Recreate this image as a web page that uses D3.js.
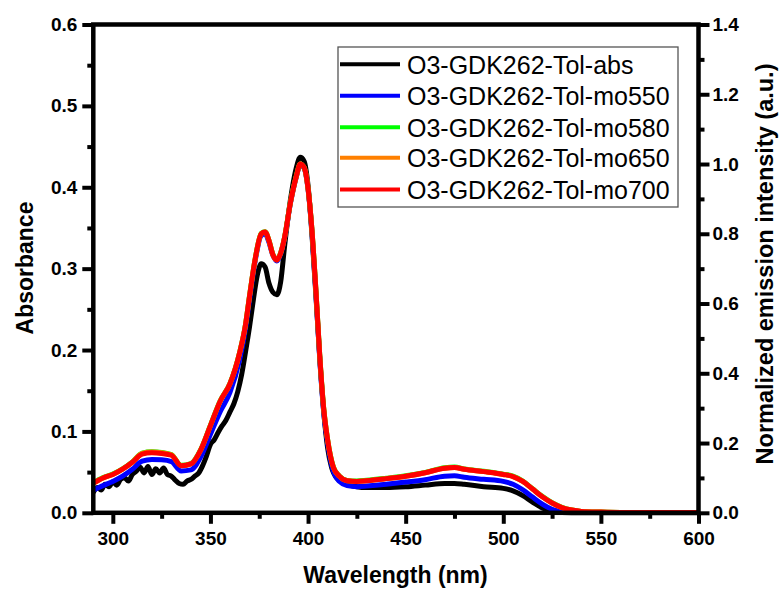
<!DOCTYPE html>
<html>
<head>
<meta charset="utf-8">
<script src="https://cdn.jsdelivr.net/npm/d3@7"></script>
<style>
  html, body { margin: 0; padding: 0; background: #fff; }
  svg { display: block; }
  text { font-family: Arial, "Liberation Sans", sans-serif; }
</style>
</head>
<body>
<svg id="chart" width="781" height="592"></svg>
<script>
// ---------- DATA ----------
const seriesNames = ["O3-GDK262-Tol-abs", "O3-GDK262-Tol-mo550", "O3-GDK262-Tol-mo580", "O3-GDK262-Tol-mo650", "O3-GDK262-Tol-mo700"];
const seriesColors = ["#000000", "#0000ff", "#00ff00", "#ff8000", "#ff0000"];

const xTicks = [300, 350, 400, 450, 500, 550, 600];
const yLeftTicks = [0.0, 0.1, 0.2, 0.3, 0.4, 0.5, 0.6];
const yRightTicks = [0.0, 0.2, 0.4, 0.6, 0.8, 1.0, 1.2, 1.4];

// Absorbance (left axis)
const absWl = [290,292,294,296,298,300,302,304,306,308,310,312,314,316,318,320,322,324,326,328,330,332,334,336,338,340,342,344,346,348,350,352,354,356,358,360,362,364,366,368,370,372,374,376,378,380,382,384,386,388,390,392,394,396,398,400,402,404,406,408,410,412,415,420,425,430,440,450,460,470,475,480,490,500,505,510,515,520,525,530,540,560,580,600];
const absVal = [0.025,0.031,0.028,0.035,0.032,0.038,0.034,0.041,0.043,0.039,0.047,0.051,0.056,0.049,0.057,0.047,0.054,0.049,0.055,0.047,0.045,0.040,0.036,0.035,0.039,0.041,0.045,0.049,0.058,0.070,0.084,0.090,0.099,0.107,0.114,0.124,0.134,0.149,0.170,0.198,0.228,0.262,0.292,0.306,0.302,0.282,0.271,0.268,0.284,0.328,0.368,0.400,0.424,0.437,0.432,0.402,0.342,0.268,0.190,0.125,0.080,0.056,0.042,0.035,0.032,0.031,0.031,0.032,0.034,0.036,0.036,0.035,0.032,0.030,0.027,0.021,0.013,0.006,0.002,0.0005,0.0,0.0,0.0,0.0];

// Emission (right axis, normalized)
const emWl = [290,295,300,305,310,315,320,325,330,335,340,345,350,355,360,365,368,370,373,376,378,380,382,384,386,388,391,394,396,398,400,402,404,406,408,410,413,416,420,425,430,440,450,460,470,475,480,490,500,505,510,515,520,525,530,535,540,550,560,570,580,590,600];
const em550 = [0.065,0.078,0.090,0.105,0.125,0.148,0.153,0.152,0.147,0.120,0.123,0.160,0.225,0.290,0.345,0.440,0.530,0.610,0.725,0.795,0.800,0.775,0.738,0.722,0.742,0.788,0.888,0.963,0.998,0.988,0.928,0.805,0.632,0.440,0.290,0.200,0.118,0.090,0.078,0.075,0.077,0.082,0.088,0.095,0.105,0.106,0.102,0.096,0.090,0.082,0.066,0.045,0.025,0.010,0.003,0.001,0.001,0.001,0.001,0.001,0.001,0.001,0.001];
const em580 = [0.086,0.101,0.111,0.126,0.146,0.171,0.175,0.173,0.167,0.136,0.141,0.181,0.251,0.321,0.371,0.461,0.541,0.621,0.731,0.801,0.806,0.781,0.741,0.726,0.746,0.791,0.891,0.966,1.000,0.990,0.931,0.811,0.641,0.451,0.301,0.211,0.131,0.106,0.093,0.091,0.093,0.099,0.106,0.116,0.129,0.131,0.126,0.119,0.111,0.105,0.091,0.069,0.047,0.029,0.016,0.008,0.004,0.002,0.001,0.001,0.001,0.001,0.001];
const em650 = [0.085,0.100,0.110,0.125,0.145,0.170,0.174,0.172,0.166,0.135,0.140,0.180,0.250,0.320,0.370,0.460,0.540,0.620,0.730,0.800,0.805,0.780,0.740,0.725,0.745,0.790,0.890,0.965,1.000,0.990,0.930,0.810,0.640,0.450,0.300,0.210,0.130,0.105,0.092,0.090,0.092,0.098,0.105,0.115,0.128,0.130,0.125,0.118,0.110,0.104,0.090,0.068,0.046,0.028,0.015,0.008,0.004,0.002,0.001,0.001,0.001,0.001,0.001];
const em700 = [0.085,0.100,0.110,0.125,0.145,0.168,0.172,0.170,0.165,0.135,0.140,0.180,0.250,0.320,0.370,0.460,0.540,0.620,0.730,0.800,0.805,0.780,0.740,0.725,0.745,0.790,0.890,0.965,1.000,0.990,0.930,0.810,0.640,0.450,0.300,0.210,0.130,0.105,0.092,0.090,0.092,0.098,0.105,0.115,0.128,0.130,0.125,0.118,0.110,0.104,0.090,0.068,0.046,0.028,0.015,0.008,0.004,0.002,0.001,0.001,0.001,0.001,0.001];

// ---------- CHART ----------
const svg = d3.select("#chart");
svg.append("rect").attr("width", 781).attr("height", 592).attr("fill", "#fff");

const x = d3.scaleLinear().domain([290, 600]).range([93.3, 698.5]);
const yL = d3.scaleLinear().domain([0, 0.6]).range([512.8, 24.5]);
const yR = d3.scaleLinear().domain([0, 1.4]).range([512.8, 24.5]);

const plot = svg.append("g");

const lineL = d3.line().x(d => x(d[0])).y(d => yL(d[1])).curve(d3.curveMonotoneX);
const lineR = d3.line().x(d => x(d[0])).y(d => yR(d[1])).curve(d3.curveMonotoneX);

const absData = absWl.map((w, i) => [w, absVal[i]]);
const emSeries = [em550, em580, em650, em700].map(arr => emWl.map((w, i) => [w, arr[i]]));

plot.append("path").datum(absData).attr("d", lineL)
  .attr("fill", "none").attr("stroke", seriesColors[0]).attr("stroke-width", 5).attr("stroke-linejoin", "round");
emSeries.forEach((s, i) => {
  plot.append("path").datum(s).attr("d", lineR)
    .attr("fill", "none").attr("stroke", seriesColors[i + 1]).attr("stroke-width", 5).attr("stroke-linejoin", "round");
});

// Axes
const fmt = d3.format(".1f");
function styleAxis(g) {
  g.select(".domain").remove();
  g.selectAll(".tick line").attr("stroke", "#000").attr("stroke-width", 4);
  g.selectAll(".tick text").attr("fill", "#000").style("font-size", "19px").style("font-weight", "bold")
    .style("font-family", "Arial, 'Liberation Sans', sans-serif");
}

// minor ticks
const xMinor = [325, 375, 425, 475, 525, 575];
const yLMinor = [0.05, 0.15, 0.25, 0.35, 0.45, 0.55];
const yRMinor = [0.1, 0.3, 0.5, 0.7, 0.9, 1.1, 1.3];

svg.append("g").attr("transform", "translate(0,512.8)")
  .call(d3.axisBottom(x).tickValues(xMinor).tickSize(6).tickFormat(""))
  .call(styleAxis);
svg.append("g").attr("transform", "translate(93.3,0)")
  .call(d3.axisLeft(yL).tickValues(yLMinor).tickSize(6).tickFormat(""))
  .call(styleAxis);
svg.append("g").attr("transform", "translate(698.5,0)")
  .call(d3.axisRight(yR).tickValues(yRMinor).tickSize(6).tickFormat(""))
  .call(styleAxis);

svg.append("g").attr("transform", "translate(0,512.8)")
  .call(d3.axisBottom(x).tickValues(xTicks).tickSize(11).tickPadding(8).tickFormat(d3.format("d")))
  .call(styleAxis);
svg.append("g").attr("transform", "translate(93.3,0)")
  .call(d3.axisLeft(yL).tickValues(yLeftTicks).tickSize(11).tickPadding(5).tickFormat(fmt))
  .call(styleAxis);
svg.append("g").attr("transform", "translate(698.5,0)")
  .call(d3.axisRight(yR).tickValues(yRightTicks).tickSize(11).tickPadding(3).tickFormat(fmt))
  .call(styleAxis);

// Frame
svg.append("rect")
  .attr("x", 93.3).attr("y", 24.5)
  .attr("width", 698.5 - 93.3).attr("height", 512.8 - 24.5)
  .attr("fill", "none").attr("stroke", "#000").attr("stroke-width", 4.5);

// Titles
svg.append("text").attr("x", 395.5).attr("y", 583)
  .attr("text-anchor", "middle").style("font-size", "23px").style("font-weight", "bold")
  .text("Wavelength (nm)");
svg.append("text").attr("transform", "translate(33,268) rotate(-90)")
  .attr("text-anchor", "middle").style("font-size", "23px").style("font-weight", "bold")
  .text("Absorbance");
svg.append("text").attr("transform", "translate(773,264) rotate(-90)")
  .attr("text-anchor", "middle").style("font-size", "23.5px").style("font-weight", "bold")
  .text("Normalized emission intensity (a.u.)");

// Legend
const leg = svg.append("g");
leg.append("rect").attr("x", 338).attr("y", 47).attr("width", 340).attr("height", 160)
  .attr("fill", "#fff").attr("stroke", "#555").attr("stroke-width", 1.3);
const rowY = [64.3, 95.7, 127.3, 157.8, 189.5];
seriesNames.forEach((name, i) => {
  leg.append("line").attr("x1", 340).attr("x2", 400).attr("y1", rowY[i]).attr("y2", rowY[i])
    .attr("stroke", seriesColors[i]).attr("stroke-width", 4);
  leg.append("text").attr("x", 407).attr("y", rowY[i] + 9.5)
    .style("font-size", "25px").attr("fill", "#000").text(name);
});
</script>
</body>
</html>
